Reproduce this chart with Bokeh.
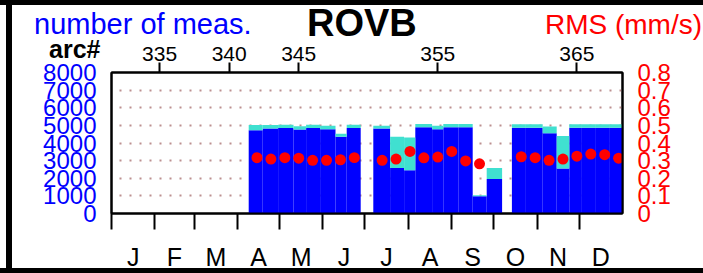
from bokeh.plotting import figure
from bokeh.models import (Range1d, LinearAxis, FixedTicker, Div, ColumnDataSource)
from bokeh.embed import file_html
from bokeh.resources import INLINE

# ---------------- data ----------------
months = ["J", "F", "M", "A", "M", "J", "J", "A", "S", "O", "N", "D"]
month_start = [0, 31, 59, 90, 120, 151, 181, 212, 243, 273, 304, 334]
month_len = [31, 28, 31, 30, 31, 30, 31, 31, 30, 31, 30, 31]

# bins (day of year) with number of measurements
bin_start = [98, 108, 119, 130, 139, 149, 160, 168, 187, 199, 209, 217, 229,
             237, 248, 258, 268, 286, 296, 308, 318, 327, 336, 346, 356]
bin_end = [108, 119, 130, 139, 149, 160, 168, 178, 199, 209, 217, 229, 237,
           248, 258, 268, 279, 296, 308, 318, 327, 336, 346, 356, 365]
n_total = [5020, 5020, 5030, 4950, 5030, 4980, 4530, 5030, 4980, 4360, 4310, 5080, 4980,
           5080, 5080, 1040, 2580, 5070, 5070, 4930, 4400, 5070, 5070, 5070, 5070]
n_accepted = [4730, 4820, 4850, 4770, 4850, 4780, 4360, 4850, 4820, 2580, 2460, 4900, 4780,
              4900, 4900, 980, 1960, 4870, 4870, 4550, 2550, 4870, 4870, 4870, 4870]

# RMS per arc
arcs = [342, 343, 344, 345, 346, 347, 348, 349,
        351, 352, 353, 354, 355, 356, 357, 358,
        361, 362, 363, 364, 365, 366, 367, 368]
rms = [0.317, 0.309, 0.317, 0.314, 0.302, 0.302, 0.305, 0.317,
       0.302, 0.309, 0.352, 0.316, 0.320, 0.352, 0.298, 0.282,
       0.322, 0.317, 0.302, 0.309, 0.325, 0.337, 0.334, 0.314]

arc_ticks = [335, 340, 345, 355, 365]
count_ticks = [0, 1000, 2000, 3000, 4000, 5000, 6000, 7000, 8000]
rms_ticks = [0, 0.1, 0.2, 0.3, 0.4, 0.5, 0.6, 0.7, 0.8]

FONT = "Liberation Sans"

# ---------------- figure ----------------
p = figure(width=703, height=273, x_range=Range1d(0, 365), y_range=Range1d(0, 8000),
           output_backend="svg", toolbar_location=None,
           min_border_left=111, min_border_right=81, min_border_top=72, min_border_bottom=43,
           background_fill_color="white", border_fill_color="white")
p.styles = {"position": "absolute", "left": "0px", "top": "0px"}
p.outline_line_color = "black"
p.outline_line_width = 2
p.extra_x_ranges = {"arc": Range1d(331.54, 368.28)}
p.extra_y_ranges = {"rms": Range1d(0, 0.8)}

src = ColumnDataSource(dict(left=bin_start, right=bin_end, acc=n_accepted, tot=n_total))
p.quad(left="left", right="right", bottom=0, top="acc", source=src,
       fill_color="#0000ff", line_color=None)
p.quad(left="left", right="right", bottom="acc", top="tot", source=src,
       fill_color="#40e0d0", line_color=None)

p.xgrid.visible = False
p.ygrid.ticker = FixedTicker(ticks=count_ticks[:-1])
p.ygrid.grid_line_color = "#bc8f8f"
p.ygrid.grid_line_width = 2
p.ygrid.grid_line_dash = "2 8"
p.ygrid.grid_line_dash_offset = 2

p.scatter(x=arcs, y=rms, x_range_name="arc", y_range_name="rms", size=11,
          fill_color="#ff0000", line_color=None)

# bottom axis (months)
month_centers = [s + l / 2 for s, l in zip(month_start, month_len)]
ax = p.xaxis[0]
ax.ticker = FixedTicker(ticks=month_centers, minor_ticks=month_start)
ax.major_label_overrides = {c: m for c, m in zip(month_centers, months)}
ax.major_tick_out = 0
ax.major_tick_in = 0
ax.minor_tick_out = 16
ax.minor_tick_in = 0
ax.minor_tick_line_width = 2
ax.minor_tick_line_color = "black"
ax.axis_line_color = "black"
ax.axis_line_width = 2
ax.major_label_standoff = 13
ax.major_label_text_font = FONT
ax.major_label_text_font_size = "25px"
ax.major_label_text_color = "black"

# left axis (counts)
ay = p.yaxis[0]
ay.ticker = FixedTicker(ticks=count_ticks)
ay.major_tick_out = 0
ay.major_tick_in = 0
ay.minor_tick_out = 0
ay.minor_tick_in = 0
ay.axis_line_color = "black"
ay.axis_line_width = 2
ay.major_label_standoff = 15
ay.major_label_text_font = FONT
ay.major_label_text_font_size = "24px"
ay.major_label_text_color = "#0000ff"

# right axis (rms)
ar = LinearAxis(y_range_name="rms", ticker=FixedTicker(ticks=rms_ticks),
                major_tick_out=0, major_tick_in=0, minor_tick_out=0, minor_tick_in=0,
                axis_line_color="black", axis_line_width=2, major_label_standoff=15,
                major_label_text_font=FONT, major_label_text_font_size="24px",
                major_label_text_color="#ff0000")
ar.major_label_overrides = {0: "0"}
p.add_layout(ar, "right")

# top axis (arc#)
at = LinearAxis(x_range_name="arc", ticker=FixedTicker(ticks=arc_ticks),
                major_tick_out=10, major_tick_in=0, major_tick_line_width=2,
                minor_tick_out=0, minor_tick_in=0,
                axis_line_color="black", axis_line_width=2,
                major_label_standoff=2, major_label_text_font=FONT,
                major_label_text_font_size="21px", major_label_text_color="black")
p.add_layout(at, "above")


# ---------------- headings (HTML text, absolutely placed) ----------------
def text_div(txt, size, color, bold=False, **pos):
    st = {"position": "absolute",
          "font-family": FONT, "font-size": f"{size}px", "line-height": f"{size}px",
          "font-weight": "bold" if bold else "normal", "color": color,
          "white-space": "nowrap", "margin": "0px", "padding": "0px",
          "pointer-events": "none"}
    for k, v in pos.items():
        st[k] = f"{v}px"
    return Div(text=txt, styles=st)


d_title = text_div("ROVB", 38, "black", bold=True, left=307, top=4)
d_meas = text_div("number of meas.", 29, "#0000ff", left=34, top=10)
d_rms = text_div("RMS (mm/s)", 28, "#ff0000", right=1, top=11)
d_arc = text_div("arc#", 25, "black", bold=True, left=49, top=37)


def band(left, top, w, h):
    return Div(text="", width=w, height=h,
               styles={"position": "absolute", "left": f"{left}px", "top": f"{top}px",
                       "width": f"{w}px", "height": f"{h}px", "overflow": "hidden",
                       "background-color": "black", "margin": "0px", "padding": "0px",
                       "pointer-events": "none"})


bands = [band(0, 0, 703, 5), band(0, 268, 703, 5), band(6, 0, 6, 273)]

open("out.html", "w").write(file_html([p, d_title, d_meas, d_rms, d_arc] + bands, INLINE))
